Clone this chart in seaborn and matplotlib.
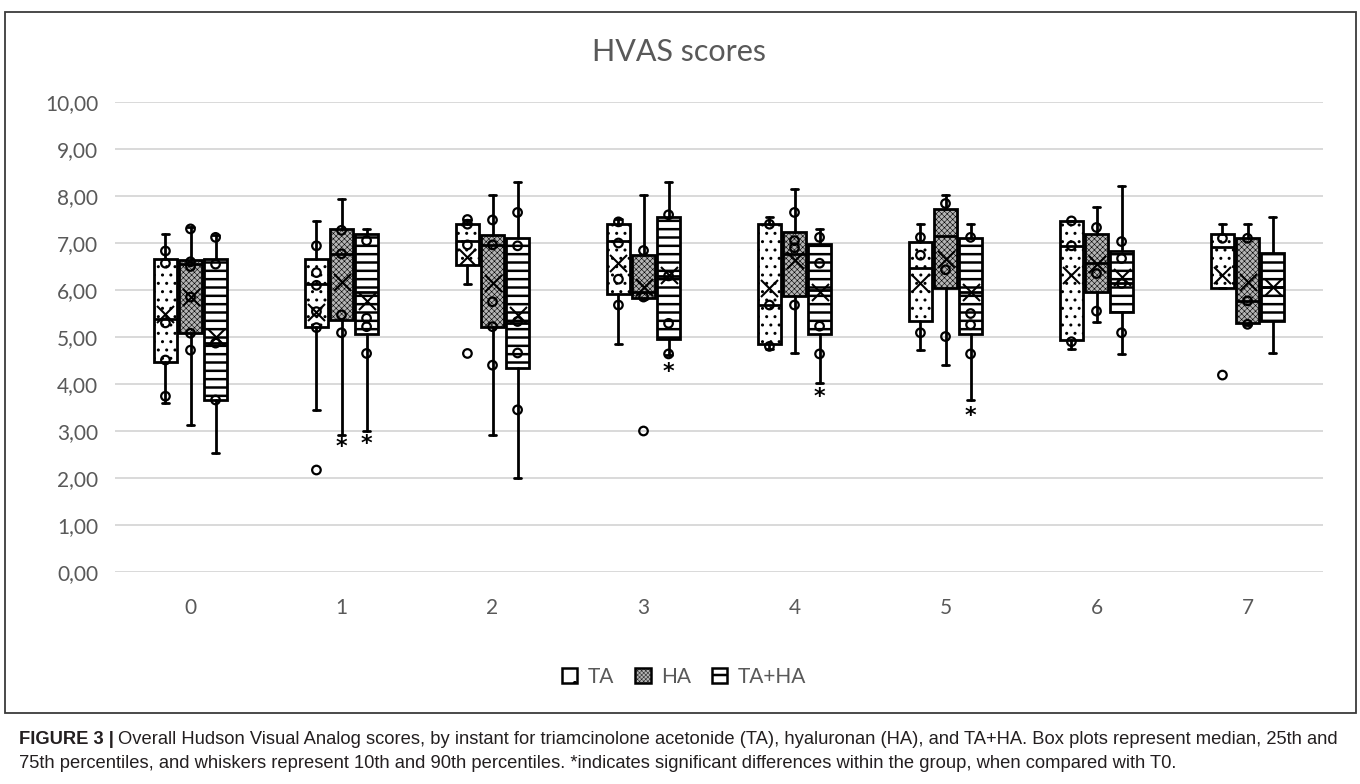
import numpy as np
import pandas as pd
import matplotlib
matplotlib.use("Agg")
import matplotlib.pyplot as plt
from matplotlib.patches import Patch, Rectangle
import seaborn as sns

# ---------------- data ----------------
groups = ["0", "1", "2", "3", "4", "5", "6", "7"]
series = ["TA", "HA", "TA+HA"]

TA_whislo = [3.60, 3.45, 6.12, 4.85, 4.74, 4.72, 4.74, 6.05]
TA_q1     = [4.47, 5.22, 6.53, 5.91, 4.85, 5.33, 4.94, 6.05]
TA_med    = [5.38, 6.12, 7.05, 7.05, 5.68, 6.46, 6.94, 6.92]
TA_q3     = [6.65, 6.65, 7.40, 7.40, 7.40, 7.03, 7.47, 7.19]
TA_whishi = [7.19, 7.47, 7.48, 7.52, 7.56, 7.40, 7.47, 7.40]
TA_mean   = [5.50, 5.54, 6.71, 6.57, 6.04, 6.14, 6.32, 6.32]
TA_points = [[6.83, 6.57, 5.30, 4.51, 3.74], [6.94, 6.37, 6.10, 5.54, 5.20],
             [7.50, 7.40, 6.96], [7.45, 7.00, 6.23, 5.68], [7.40, 5.68, 4.80],
             [7.12, 6.74, 5.09], [7.47, 6.94, 4.90], [7.10]]
TA_outliers = [[], [2.17], [4.65], [], [], [], [], [4.19]]

HA_whislo = [3.12, 2.91, 2.91, 5.80, 4.65, 4.40, 5.31, 5.25]
HA_q1     = [5.09, 5.36, 5.22, 5.84, 5.88, 6.04, 5.95, 5.29]
HA_med    = [6.55, 6.77, 6.96, 5.95, 6.77, 7.15, 6.57, 5.77]
HA_q3     = [6.64, 7.30, 7.18, 6.74, 7.24, 7.72, 7.19, 7.10]
HA_whishi = [7.34, 7.93, 8.02, 8.02, 8.14, 8.02, 7.76, 7.40]
HA_mean   = [5.86, 6.18, 6.14, 6.07, 6.64, 6.67, 6.55, 6.18]
HA_points = [[7.30, 6.60, 6.50, 5.85, 5.08, 4.72], [7.27, 6.77, 5.47, 5.09],
             [7.49, 6.96, 5.75, 5.22, 4.40], [6.84, 5.85], [7.65, 7.05, 6.90, 5.68],
             [7.84, 6.43, 5.01], [7.33, 6.35, 5.55], [7.10, 5.77, 5.27]]
HA_outliers = [[], [], [], [3.00], [], [], [], []]

TAHA_whislo = [2.54, 3.00, 2.01, 4.62, 4.03, 3.65, 4.64, 4.65]
TAHA_q1     = [3.66, 5.06, 4.33, 4.96, 5.06, 5.06, 5.54, 5.33]
TAHA_med    = [4.87, 5.95, 5.30, 6.30, 6.00, 5.95, 6.14, 6.07]
TAHA_q3     = [6.65, 7.19, 7.10, 7.56, 6.98, 7.10, 6.82, 6.78]
TAHA_whishi = [7.17, 7.30, 8.30, 8.30, 7.30, 7.40, 8.22, 7.56]
TAHA_mean   = [5.00, 5.77, 5.47, 6.32, 5.96, 5.96, 6.28, 6.07]
TAHA_points = [[7.12, 6.55, 4.87, 3.66], [7.05, 5.40, 5.22, 4.65],
               [7.65, 6.94, 5.33, 4.66, 3.45], [7.60, 6.30, 5.29, 4.64],
               [7.12, 6.57, 5.23, 4.64], [7.12, 5.50, 5.26, 4.64],
               [7.03, 6.67, 6.14, 5.09], []]
TAHA_outliers = [[], [], [], [], [], [], [], []]

# significance asterisks (group, series, y position)
star_groups = ["1", "1", "3", "4", "5"]
star_series = ["HA", "TA+HA", "TA+HA", "TA+HA", "TA+HA"]
star_values = [2.67, 2.72, 4.26, 3.72, 3.32]

y_ticks = [0, 1, 2, 3, 4, 5, 6, 7, 8, 9, 10]

# ---------------- style ----------------
sns.set_style("white")
plt.rcParams["font.family"] = ["Lato", "DejaVu Sans"]
plt.rcParams["hatch.linewidth"] = 1.6
GREY_TXT = "#595959"

W, H = 1360, 784
fig = plt.figure(figsize=(W / 100, H / 100), dpi=100)
ax = fig.add_axes([115 / W, 1 - 572 / H, (1323 - 115) / W, (572 - 102) / H])

stats_by_series = {
    "TA": (TA_whislo, TA_q1, TA_med, TA_q3, TA_whishi, TA_mean, TA_points, TA_outliers),
    "HA": (HA_whislo, HA_q1, HA_med, HA_q3, HA_whishi, HA_mean, HA_points, HA_outliers),
    "TA+HA": (TAHA_whislo, TAHA_q1, TAHA_med, TAHA_q3, TAHA_whishi, TAHA_mean,
              TAHA_points, TAHA_outliers),
}
dodge = {"TA": -0.166, "HA": 0.0, "TA+HA": 0.166}
box_w = 0.158
style = {
    "TA": dict(fc="white", hatch="..", hlw=1.0),
    "HA": dict(fc="#b4b4b4", hatch="xxxxxx", hlw=0.4),
    "TA+HA": dict(fc="white", hatch="--", hlw=1.8),
}

rows_pts, rows_mean = [], []
for s in series:
    wl, q1, md, q3, wh, mn, pts, outs = stats_by_series[s]
    bstats, pos = [], []
    for i, g in enumerate(groups):
        bstats.append(dict(whislo=wl[i], q1=q1[i], med=md[i], q3=q3[i],
                           whishi=wh[i], fliers=[], label=g))
        pos.append(i + dodge[s])
        for v in pts[i] + outs[i]:
            rows_pts.append(dict(x=i + dodge[s], y=v, series=s))
        rows_mean.append(dict(x=i + dodge[s], y=mn[i], series=s))
    res = ax.bxp(bstats, positions=pos, widths=box_w, patch_artist=True,
                 showfliers=False, capwidths=0.05,
                 boxprops=dict(linewidth=2.0, edgecolor="black"),
                 whiskerprops=dict(linewidth=2.0, color="black"),
                 capprops=dict(linewidth=2.0, color="black"),
                 medianprops=dict(linewidth=2.0, color="black"),
                 manage_ticks=False)
    for b in res["boxes"]:
        b.set_facecolor(style[s]["fc"])
        b.set_hatch(style[s]["hatch"])
        if hasattr(b, "set_hatch_linewidth"):
            b.set_hatch_linewidth(style[s]["hlw"])
        b.set_zorder(2)

df_pts = pd.DataFrame(rows_pts)
df_mean = pd.DataFrame(rows_mean)
sns.scatterplot(data=df_pts, x="x", y="y", marker="o", s=38, facecolors="none",
                edgecolor="black", linewidth=1.6, legend=False, ax=ax, zorder=4)
sns.scatterplot(data=df_mean, x="x", y="y", marker="x", s=150, color="black",
                linewidth=1.5, legend=False, ax=ax, zorder=5)

for g, s, v in zip(star_groups, star_series, star_values):
    ax.text(groups.index(g) + dodge[s], v, "*", ha="center", va="center",
            fontsize=16, fontweight="bold", color="black",
            family="DejaVu Sans", zorder=6)

# ---------------- axes ----------------
ax.set_xlim(-0.5, len(groups) - 0.5)
ax.set_ylim(0, 10)
ax.set_yticks(y_ticks)
ax.set_yticklabels([f"{v:.2f}".replace(".", ",") for v in y_ticks])
ax.set_xticks(range(len(groups)))
ax.set_xticklabels(groups)
ax.tick_params(axis="y", length=0, pad=12, labelsize=15, labelcolor=GREY_TXT)
ax.tick_params(axis="x", length=0, pad=19, labelsize=15, labelcolor=GREY_TXT)
ax.grid(axis="y", color="#d9d9d9", linewidth=1.4, zorder=0)
ax.set_axisbelow(True)
for sp in ax.spines.values():
    sp.set_visible(False)
ax.set_xlabel("")
ax.set_ylabel("")

# ---------------- figure decorations ----------------
fig.patches.append(Rectangle((5 / W, 1 - 713 / H), (1356 - 5) / W, (713 - 12) / H,
                             transform=fig.transFigure, fill=False,
                             edgecolor="#3a3a3a", linewidth=1.3))
fig.text(679 / W, 1 - 52 / H, "HVAS scores", ha="center", va="center",
         fontsize=22, color=GREY_TXT)

legend_hatch = {"TA": ".", "HA": "xxxxxxxx", "TA+HA": "-"}
legend_hlw = {"TA": 1.0, "HA": 0.3, "TA+HA": 1.8}
handles = []
for s in series:
    p = Patch(facecolor=style[s]["fc"], edgecolor="black", linewidth=1.8,
              hatch=legend_hatch[s])
    handles.append(p)
leg = fig.legend(handles, series, loc="center", bbox_to_anchor=(684 / W, 1 - 677 / H),
                 ncol=3, frameon=False, fontsize=15, handlelength=0.75,
                 handleheight=0.75, handletextpad=0.5, columnspacing=1.0)
for t in leg.get_texts():
    t.set_color(GREY_TXT)
for s, h in zip(series, leg.legend_handles):
    if hasattr(h, "set_hatch_linewidth"):
        h.set_hatch_linewidth(legend_hlw[s])

cap_font = ["Liberation Sans", "DejaVu Sans"]
cap_size = 13.2
renderer = fig.canvas.get_renderer()
t_bold = fig.text(19 / W, 1 - 739 / H, "FIGURE 3 |", ha="left", va="center",
                  fontsize=cap_size, fontweight="bold", family=cap_font, color="#231f20")
bb = t_bold.get_window_extent(renderer=renderer)
fig.text((bb.x1 + 4) / W, 1 - 739 / H,
         "Overall Hudson Visual Analog scores, by instant for triamcinolone acetonide (TA), "
         "hyaluronan (HA), and TA+HA. Box plots represent median, 25th and",
         ha="left", va="center", fontsize=cap_size, family=cap_font, color="#231f20")
fig.text(19 / W, 1 - 764 / H,
         "75th percentiles, and whiskers represent 10th and 90th percentiles. "
         "*indicates significant differences within the group, when compared with T0.",
         ha="left", va="center", fontsize=cap_size, family=cap_font, color="#231f20")

fig.savefig("out.png", dpi=100)
